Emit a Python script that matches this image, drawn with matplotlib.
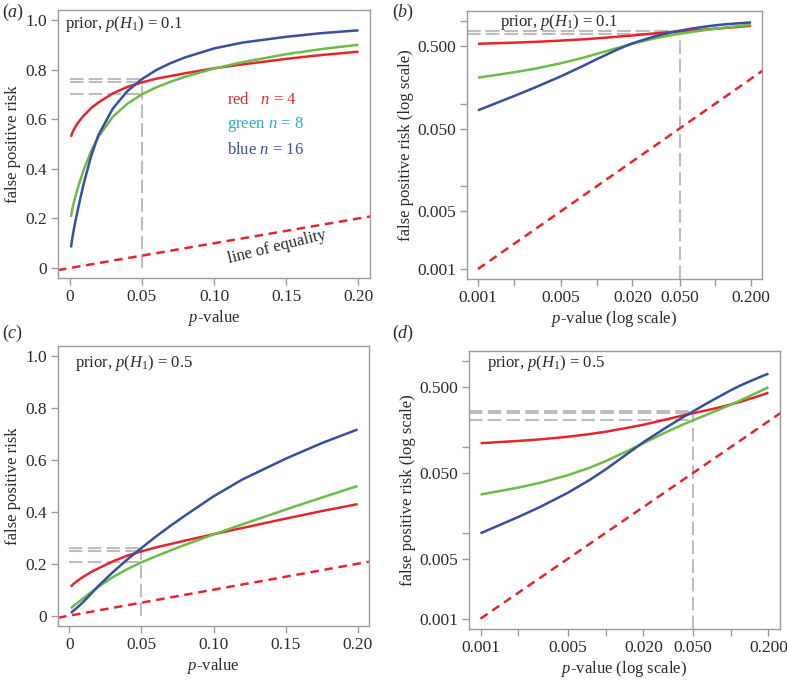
import matplotlib
matplotlib.use("Agg")
import matplotlib.pyplot as plt
from matplotlib.ticker import FixedLocator, FixedFormatter, NullLocator

plt.rcParams['font.family'] = ['Liberation Serif', 'DejaVu Serif']
plt.rcParams['mathtext.fontset'] = 'custom'
plt.rcParams['mathtext.rm'] = 'Liberation Serif'
plt.rcParams['mathtext.it'] = 'Liberation Serif:italic'
plt.rcParams['mathtext.bf'] = 'Liberation Serif:bold'

# ---------------- data ----------------
p_values = [0.001, 0.002, 0.003, 0.005, 0.0075, 0.01, 0.015, 0.02, 0.03, 0.04,
            0.05, 0.06, 0.07, 0.08, 0.10, 0.12, 0.15, 0.175, 0.20]

# prior p(H1) = 0.1
fpr01_n4 = [0.529, 0.546, 0.558, 0.578, 0.598, 0.615, 0.645, 0.667, 0.704, 0.730,
            0.748, 0.763, 0.774, 0.785, 0.805, 0.821, 0.843, 0.859, 0.872]
fpr01_n8 = [0.206, 0.239, 0.264, 0.308, 0.355, 0.399, 0.472, 0.529, 0.610, 0.662,
            0.700, 0.728, 0.751, 0.771, 0.804, 0.830, 0.862, 0.883, 0.900]
fpr01_n16 = [0.083, 0.123, 0.156, 0.214, 0.281, 0.344, 0.452, 0.536, 0.643, 0.713,
             0.761, 0.798, 0.826, 0.849, 0.885, 0.909, 0.932, 0.947, 0.958]

# prior p(H1) = 0.5
fpr05_n4 = [0.111, 0.118, 0.123, 0.132, 0.142, 0.151, 0.168, 0.182, 0.209, 0.231,
            0.248, 0.263, 0.276, 0.289, 0.314, 0.338, 0.374, 0.403, 0.430]
fpr05_n8 = [0.028, 0.0337, 0.0384, 0.0471, 0.0577, 0.0686, 0.0904, 0.111, 0.148, 0.179,
            0.2055, 0.229, 0.251, 0.2725, 0.313, 0.352, 0.409, 0.455, 0.500]
fpr05_n16 = [0.0099, 0.0153, 0.0201, 0.0294, 0.0417, 0.055, 0.0841, 0.1138, 0.167, 0.216,
             0.261, 0.305, 0.346, 0.385, 0.460, 0.525, 0.605, 0.665, 0.718]

p_mark = 0.05
equality_x = [0.001, 1.0]

lin_xticks = [0, 0.05, 0.10, 0.15, 0.20]
lin_xlabels = ['0', '0.05', '0.10', '0.15', '0.20']
lin_yticks = [0, 0.2, 0.4, 0.6, 0.8, 1.0]
lin_ylabels = ['0', '0.2', '0.4', '0.6', '0.8', '1.0']
log_xticks = [0.001, 0.002, 0.005, 0.01, 0.02, 0.05, 0.1, 0.2]
log_xlabels = ['0.001', '', '0.005', '', '0.020', '0.050', '', '0.200']
log_yticks = [0.001, 0.005, 0.01, 0.05, 0.1, 0.5, 1.0]
log_ylabels = ['0.001', '0.005', '', '0.050', '', '0.500', '']

legend_lines = ['red   $n$ = 4', 'green $n$ = 8', 'blue $n$ = 16']

# ---------------- style ----------------
RED = '#e3262d'
GREEN = '#6cbd45'
BLUE = '#35509f'
CYAN = '#2aa8dc'
GRAY = '#bdbdbd'
SPINE = '#9a9a9a'
TXT = '#2b2b2b'
LW = 1.8
FS = 12
TFS = 12.5

fig = plt.figure(figsize=(7.87, 6.81), dpi=100)

axa = fig.add_axes([58/787, 1-278/681, 312/787, 268/681])
axb = fig.add_axes([467/787, 1-279/681, 295/787, 268/681])
axc = fig.add_axes([58/787, 1-626/681, 311/787, 280/681])
axd = fig.add_axes([469/787, 1-629/681, 311/787, 278/681])


def style(ax):
    for s in ax.spines.values():
        s.set_color(SPINE)
        s.set_linewidth(1.0)
    ax.tick_params(direction='out', length=5, width=1.0, color=SPINE,
                   labelsize=TFS, labelcolor=TXT, pad=3)


def draw(ax, series, prior_text, log, text_pos):
    cols = [RED, GREEN, BLUE]
    vals05 = [s[p_values.index(p_mark)] for s in series]
    if log:
        ax.set_xscale('log')
        ax.set_yscale('log')
        ax.set_xlim(10**-3.092, 10**-0.607)
        ax.set_ylim(10**-3.12, 10**0.12)
        x0 = ax.get_xlim()[0]
        y0 = ax.get_ylim()[0]
    else:
        ax.set_xlim(-0.00796, 0.20796)
        ax.set_ylim(-0.04, 1.04)
        x0 = 0.0
        y0 = 0.0
    # grey reference lines at p = 0.05
    for v in vals05:
        ax.plot([x0, p_mark], [v, v], color=GRAY, lw=1.5, dashes=(6.5, 2.5), zorder=1)
    ax.plot([p_mark, p_mark], [y0, max(vals05)], color=GRAY, lw=1.5,
            dashes=(6.5, 2.5), zorder=1)
    # line of equality
    if log:
        ax.plot(equality_x, equality_x, color=RED, lw=LW, dashes=(3.4, 2.3), zorder=2)
    else:
        ax.axline((0, 0), slope=1, color=RED, lw=LW, dashes=(3.4, 2.3), zorder=2)
    # curves
    for s, c in zip(series, cols):
        ax.plot(p_values, s, color=c, lw=LW, solid_capstyle='butt',
                solid_joinstyle='round', zorder=3)
    ax.text(text_pos[0], text_pos[1], prior_text, transform=ax.transAxes,
            fontsize=FS, color=TXT, ha='left', va='center')
    style(ax)
    if log:
        ax.xaxis.set_major_locator(FixedLocator(log_xticks))
        ax.xaxis.set_major_formatter(FixedFormatter(log_xlabels))
        ax.xaxis.set_minor_locator(NullLocator())
        ax.yaxis.set_major_locator(FixedLocator(log_yticks))
        ax.yaxis.set_major_formatter(FixedFormatter(log_ylabels))
        ax.yaxis.set_minor_locator(NullLocator())
        ax.set_xlabel('$p$-value (log scale)', fontsize=FS, color=TXT, labelpad=2)
        ax.set_ylabel('false positive risk (log scale)', fontsize=FS, color=TXT, labelpad=2.5)
    else:
        ax.set_xticks(lin_xticks)
        ax.set_xticklabels(lin_xlabels)
        ax.set_yticks(lin_yticks)
        ax.set_yticklabels(lin_ylabels)
        ax.set_xlabel('$p$-value', fontsize=FS, color=TXT, labelpad=2)
        ax.set_ylabel('false positive risk', fontsize=FS, color=TXT, labelpad=3)


draw(axa, [fpr01_n4, fpr01_n8, fpr01_n16], 'prior, $p(H_1)$ = 0.1', False, (0.022, 0.948))
draw(axb, [fpr01_n4, fpr01_n8, fpr01_n16], 'prior, $p(H_1)$ = 0.1', True, (0.112, 0.96))
draw(axc, [fpr05_n4, fpr05_n8, fpr05_n16], 'prior, $p(H_1)$ = 0.5', False, (0.055, 0.938))
draw(axd, [fpr05_n4, fpr05_n8, fpr05_n16], 'prior, $p(H_1)$ = 0.5', True, (0.057, 0.956))

# legend-like text in panel (a)
for txt, col, yy in zip(legend_lines, [RED, CYAN, BLUE], [0.676, 0.58, 0.475]):
    axa.text(0.109, yy, txt, color=col, fontsize=FS, ha='left', va='center')

axa.text(0.1434, 0.0855, 'line of equality', color=TXT, fontsize=FS, rotation=14,
         ha='center', va='center', rotation_mode='anchor')

# panel letters
for lab, (x, y) in zip(['($a$)', '($b$)', '($c$)', '($d$)'],
                       [(2, 12), (392, 12), (2, 333), (392, 333)]):
    fig.text(x/787, 1-y/681, lab, fontsize=13, color=TXT, ha='left', va='center')

fig.savefig('out.png', dpi=100)
